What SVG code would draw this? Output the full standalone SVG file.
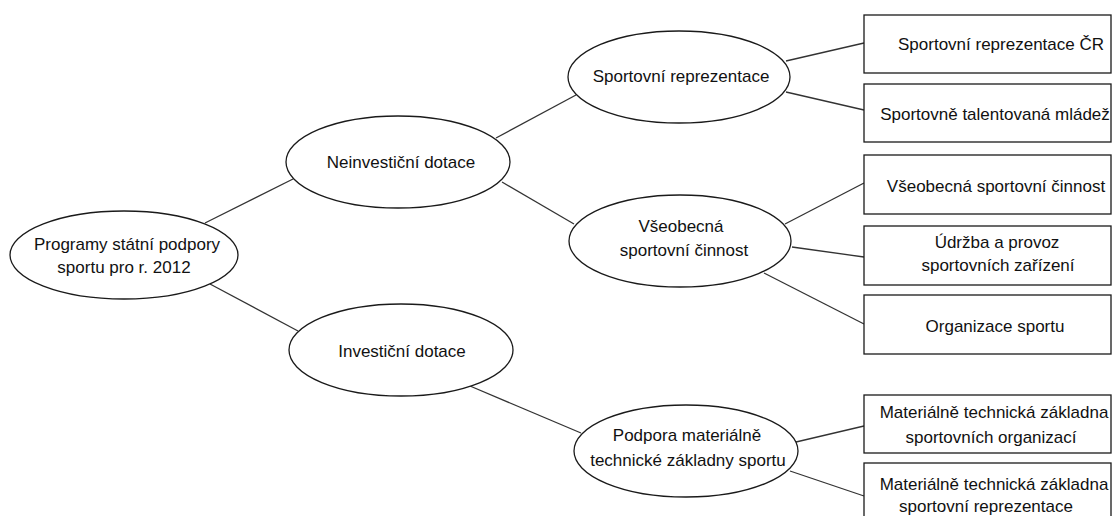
<svg xmlns="http://www.w3.org/2000/svg" width="1116" height="516" viewBox="0 0 1116 516">
<style>
.n{fill:#fff;stroke:#1a1a1a;stroke-width:1.3}
.c line{stroke:#333;stroke-width:1.3}
text{font-family:"Liberation Sans",Arial,sans-serif;font-size:17px;fill:#111;text-anchor:middle}
</style>
<rect width="1116" height="516" fill="#fff"/>
<g class="c" id="connectors">
<line x1="205" y1="223" x2="293" y2="179"/>
<line x1="210" y1="284" x2="298" y2="331"/>
<line x1="496" y1="138" x2="576" y2="95"/>
<line x1="502" y1="182" x2="574" y2="224"/>
<line x1="470" y1="386" x2="581" y2="433"/>
<line x1="786" y1="61" x2="864" y2="43"/>
<line x1="786" y1="92" x2="864" y2="110"/>
<line x1="785" y1="224" x2="864" y2="183"/>
<line x1="792" y1="247" x2="864" y2="257"/>
<line x1="764" y1="273" x2="864" y2="324"/>
<line x1="796" y1="442" x2="864" y2="426"/>
<line x1="790" y1="471" x2="864" y2="496"/>
</g>
<g id="root"><ellipse class="n" cx="124" cy="255" rx="114" ry="44"/><text x="127" y="250">Programy státní podpory</text><text x="124" y="273">sportu pro r. 2012</text></g>
<g id="neinvesticni"><ellipse class="n" cx="398" cy="162" rx="112" ry="46"/><text x="401" y="168">Neinvestiční dotace</text></g>
<g id="investicni"><ellipse class="n" cx="401" cy="350" rx="112" ry="46"/><text x="402" y="357">Investiční dotace</text></g>
<g id="sportovni-reprezentace"><ellipse class="n" cx="679" cy="77" rx="111" ry="46"/><text x="681" y="82">Sportovní reprezentace</text></g>
<g id="vseobecna"><ellipse class="n" cx="680" cy="241" rx="111" ry="46"/><text x="681" y="232">Všeobecná</text><text x="684" y="256">sportovní činnost</text></g>
<g id="podpora"><ellipse class="n" cx="686" cy="451" rx="112" ry="46"/><text x="687" y="441">Podpora materiálně</text><text x="688" y="466">technické základny sportu</text></g>
<g id="box-cr"><rect class="n" x="864" y="15" width="247" height="58"/><text x="1001" y="50">Sportovní reprezentace ČR</text></g>
<g id="box-mladez"><rect class="n" x="864" y="84" width="247" height="58"/><text x="995" y="120">Sportovně talentovaná mládež</text></g>
<g id="box-vseobecna"><rect class="n" x="864" y="155" width="247" height="59"/><text x="996" y="192">Všeobecná sportovní činnost</text></g>
<g id="box-udrzba"><rect class="n" x="864" y="226" width="247" height="59"/><text x="997" y="248">Údržba a provoz</text><text x="998" y="271">sportovních zařízení</text></g>
<g id="box-organizace"><rect class="n" x="864" y="295" width="247" height="59"/><text x="995" y="332">Organizace sportu</text></g>
<g id="box-mtz-org"><rect class="n" x="864" y="395" width="247" height="58"/><text x="994" y="418">Materiálně technická základna</text><text x="991" y="443">sportovních organizací</text></g>
<g id="box-mtz-rep"><rect class="n" x="864" y="463" width="247" height="60"/><text x="994" y="490">Materiálně technická základna</text><text x="986" y="512">sportovní reprezentace</text></g>
</svg>
